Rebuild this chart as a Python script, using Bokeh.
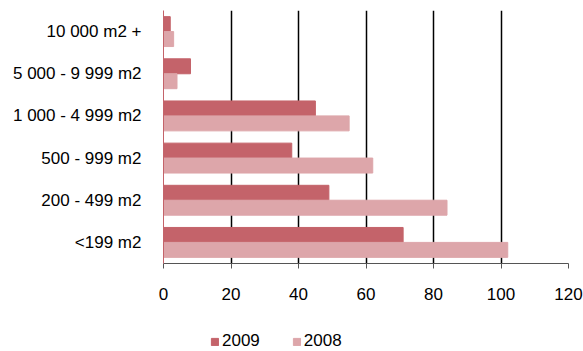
from bokeh.plotting import figure
from bokeh.models import FactorRange, Range1d, Legend, LegendItem, ColumnDataSource
from bokeh.layouts import column
from bokeh.transform import dodge
from bokeh.embed import file_html
from bokeh.resources import INLINE

categories = ["<199 m2", "200 - 499 m2", "500 - 999 m2", "1 000 - 4 999 m2", "5 000 - 9 999 m2", "10 000 m2 +"]
v2009 = [71, 49, 38, 45, 8, 2]
v2008 = [102, 84, 62, 55, 4, 3]
x_ticks = [0, 20, 40, 60, 80, 100, 120]

FONT = "Liberation Sans"
C2009 = "#C4636A"
C2008 = "#DDA6AA"

src = ColumnDataSource(dict(cat=categories, v2009=v2009, v2008=v2008))

p = figure(width=583, height=311, output_backend="svg", toolbar_location=None,
           y_range=FactorRange(factors=categories, range_padding=0),
           x_range=Range1d(0, 120),
           min_border_left=163, min_border_right=15, min_border_top=10, min_border_bottom=48)
p.outline_line_color = None
p.background_fill_color = "white"
p.border_fill_color = "white"

r1 = p.hbar(y=dodge("cat", 0.177, range=p.y_range), right="v2009", left=0, height=0.355,
            source=src, fill_color=C2009, line_color=C2009)
r2 = p.hbar(y=dodge("cat", -0.177, range=p.y_range), right="v2008", left=0, height=0.355,
            source=src, fill_color=C2008, line_color=C2008)

p.xaxis.ticker = x_ticks
p.xaxis.axis_line_color = "#555555"
p.xaxis.major_tick_line_color = "#555555"
p.xaxis.major_tick_out = 5
p.xaxis.major_tick_in = 0
p.xaxis.minor_tick_line_color = None
p.xaxis.major_label_standoff = 19
p.xaxis.major_label_text_font = FONT
p.xaxis.major_label_text_font_size = "17px"
p.xaxis.major_label_text_color = "black"

p.yaxis.axis_line_color = C2009
p.yaxis.major_tick_line_color = None
p.yaxis.major_tick_out = 0
p.yaxis.major_tick_in = 0
p.yaxis.minor_tick_line_color = None
p.yaxis.major_label_standoff = 22
p.yaxis.major_label_text_font = FONT
p.yaxis.major_label_text_font_size = "17px"
p.yaxis.major_label_text_color = "black"

p.xgrid.ticker = x_ticks
p.xgrid.grid_line_color = "black"
p.xgrid.grid_line_width = 1.5
p.ygrid.grid_line_color = None

# legend strip below the chart
p2 = figure(width=583, height=40, output_backend="svg", toolbar_location=None,
            y_range=FactorRange(factors=categories), x_range=Range1d(0, 120),
            x_axis_type=None, y_axis_type=None,
            min_border_left=0, min_border_right=0, min_border_top=0, min_border_bottom=0)
p2.outline_line_color = None
p2.xgrid.grid_line_color = None
p2.ygrid.grid_line_color = None
l1 = p2.hbar(y="cat", right="v2009", left=0, height=0.355, source=src,
             fill_color=C2009, line_color=C2009, visible=False)
l2 = p2.hbar(y="cat", right="v2008", left=0, height=0.355, source=src,
             fill_color=C2008, line_color=C2008, visible=False)

legend = Legend(items=[LegendItem(label="2009", renderers=[l1]),
                       LegendItem(label="2008", renderers=[l2])],
                orientation="horizontal", location=(47, 0),
                padding=0, margin=0, spacing=32, label_standoff=3,
                glyph_width=9, glyph_height=9, label_height=16,
                label_text_font=FONT, label_text_font_size="17px",
                label_text_color="black",
                border_line_color=None, background_fill_alpha=0)
p2.add_layout(legend, "center")

layout = column(p, p2, spacing=0)
open("out.html", "w").write(file_html(layout, INLINE))
